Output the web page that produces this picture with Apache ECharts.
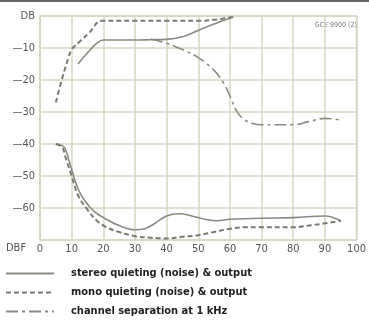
<!DOCTYPE html>
<html>
<head>
<meta charset="utf-8">
<title>GCE 9900 quieting</title>
<script src="https://cdn.jsdelivr.net/npm/echarts@6/dist/echarts.min.js"></script>
<style>
  html, body { margin: 0; padding: 0; background: #fff; }
  #main { width: 369px; height: 322px; }
</style>
</head>
<body>
<div id="main"></div>
<script>
// values: [dBf, dB]
var xTicks = [0, 10, 20, 30, 40, 50, 60, 70, 80, 90, 100];
var stereoOutput = [[12,-15],[15,-11.5],[18,-8.5],[20,-7.5],[25,-7.5],[30,-7.5],[35,-7.4],[40,-7.3],[45,-6.5],[50,-4.5],[55,-2.5],[61,-0.3]];
var stereoNoise = [[5,-40],[7,-40.5],[8,-41.5],[10,-48],[12,-54],[14,-57.5],[17,-61],[20,-63],[25,-65.5],[30,-66.8],[33,-66.5],[36,-65],[40,-62.5],[44,-61.8],[48,-62.5],[52,-63.5],[56,-64],[60,-63.5],[70,-63.2],[80,-63],[90,-62.5],[95,-64]];
var monoOutput = [[5,-27],[7,-19.5],[9,-13],[10,-10.5],[12.5,-8],[15.5,-5.3],[19.5,-1.5],[30,-1.5],[40,-1.5],[50,-1.5],[55,-1.2],[61,-0.3]];
var monoNoise = [[5,-40],[7,-41],[8,-44],[10,-50],[12,-56],[15,-60.5],[18,-64],[21,-66],[25,-67.5],[30,-68.8],[35,-69.3],[40,-69.5],[45,-69],[50,-68.5],[55,-67.5],[60,-66.5],[65,-66],[70,-66],[80,-66],[85,-65.5],[90,-64.8],[95,-64]];
var separation = [[35,-7.2],[40,-8.5],[45,-10.5],[50,-13],[55,-17],[58,-21],[60,-25],[62,-29.5],[64,-32],[67,-33.5],[70,-34],[80,-34],[85,-33],[90,-32],[95,-32.5]];

var names = [
  'stereo quieting (noise) & output',
  'mono quieting (noise) & output',
  'channel separation at 1 kHz'
];

var fontNarrow = "'Liberation Sans Narrow', 'DejaVu Sans Condensed', sans-serif";
var gridColor = '#d6d6c2';
var curveColor = '#8a8a82';

function joined(a, b) {
  // break the line between the output and noise branches
  return a.concat([[b[0][0], '-']], b);
}

var myChart = echarts.init(document.getElementById('main'), null, { renderer: 'canvas' });
var option = {
  backgroundColor: '#fff',
  animation: false,
  grid: { left: 40, right: 8, top: 16, bottom: 82, show: true, borderColor: gridColor, borderWidth: 1.5 },
  xAxis: {
    type: 'value', min: 0, max: 100, interval: 10,
    axisLine: { show: false }, axisTick: { show: false },
    splitLine: { show: true, lineStyle: { color: gridColor, width: 1.5 } },
    axisLabel: { color: '#555', fontSize: 11, fontFamily: fontNarrow, margin: 4 }
  },
  yAxis: {
    type: 'value', min: -70, max: 0, interval: 10,
    axisLine: { show: false }, axisTick: { show: false },
    splitLine: { show: true, lineStyle: { color: gridColor, width: 1.5 } },
    axisLabel: {
      color: '#555', fontSize: 11, fontFamily: fontNarrow, margin: 5,
      formatter: function (v) {
        if (v === 0) return 'DB';
        if (v === -70) return '';
        return '\u2014' + Math.abs(v);
      }
    }
  },
  legend: {
    orient: 'vertical', left: 5, top: 268, padding: 0,
    itemWidth: 48, itemHeight: 10, itemGap: 8,
    data: names,
    itemStyle: { opacity: 0 },
    textStyle: { color: '#222', fontSize: 11, fontWeight: 'bold', fontFamily: fontNarrow, padding: [0, 0, 0, 12] }
  },
  graphic: [
    { type: 'rect', left: 0, top: 0, shape: { width: 369, height: 2 }, style: { fill: '#666' } },
    { type: 'text', right: 12, top: 22, style: { text: 'GCE 9900 (2)', fill: '#777', fontSize: 7, fontFamily: fontNarrow } },
    { type: 'text', left: 6, top: 243, style: { text: 'DBF', fill: '#555', fontSize: 11, fontFamily: fontNarrow } }
  ],
  series: [
    {
      name: names[0], type: 'line', showSymbol: false, symbol: 'none',
      smooth: 0.4, connectNulls: false,
      lineStyle: { color: curveColor, width: 1.6, type: 'solid' },
      itemStyle: { color: curveColor },
      data: joined(stereoOutput, stereoNoise)
    },
    {
      name: names[1], type: 'line', showSymbol: false, symbol: 'none',
      smooth: 0.4, connectNulls: false,
      lineStyle: { color: '#7a7a74', width: 2, type: [5, 3] },
      itemStyle: { color: '#7a7a74' },
      data: joined(monoOutput, monoNoise)
    },
    {
      name: names[2], type: 'line', showSymbol: false, symbol: 'none',
      smooth: 0.4,
      lineStyle: { color: curveColor, width: 1.6, type: [12, 4, 3, 4] },
      itemStyle: { color: curveColor },
      data: separation
    }
  ]
};
myChart.setOption(option);
</script>
</body>
</html>
